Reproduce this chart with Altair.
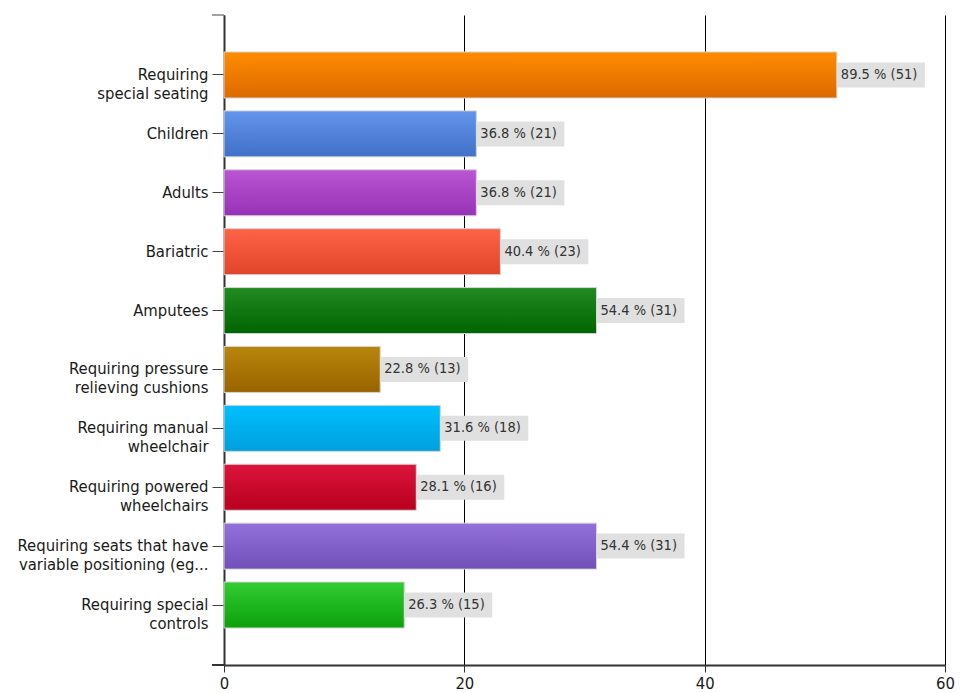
import altair as alt
import pandas as pd

categories = [
    "Requiring\nspecial seating",
    "Children",
    "Adults",
    "Bariatric",
    "Amputees",
    "Requiring pressure\nrelieving cushions",
    "Requiring manual\nwheelchair",
    "Requiring powered\nwheelchairs",
    "Requiring seats that have\nvariable positioning (eg...",
    "Requiring special\ncontrols",
]
counts = [51, 21, 21, 23, 31, 13, 18, 16, 31, 15]
percents = [89.5, 36.8, 36.8, 40.4, 54.4, 22.8, 31.6, 28.1, 54.4, 26.3]
top_colors = ["#ff8c00", "#6495ed", "#ba55d3", "#ff6347", "#228b22",
              "#b8860b", "#00bfff", "#dc143c", "#9370db", "#32cd32"]
bottom_colors = ["#dc6a00", "#4070c8", "#9632b4", "#e0442a", "#006400",
                 "#996300", "#00a0dc", "#b8001e", "#7250b8", "#0ca00c"]
x_ticks = [0, 20, 40, 60]

df = pd.DataFrame({
    "idx": list(range(len(categories))),
    "cat": categories,
    "count": counts,
    "label": [f"{p:.1f} % ({c})" for p, c in zip(percents, counts)],
})

FONT = "'DejaVu Sans Condensed', 'DejaVu Sans', sans-serif"
PLOT_W = 721
PLOT_H = 650

y_enc = alt.Y(
    "cat:N",
    sort=categories,
    scale=alt.Scale(paddingInner=0.219, paddingOuter=0.628),
    axis=alt.Axis(
        title=None, labelFont=FONT, labelFontSize=16.5, labelColor="#1a1a1a",
        tickSize=12, tickColor="#444", domainColor="#333", domainWidth=2,
        labelPadding=4, labelLineHeight=19, labelLimit=400,
        labelExpr="split(datum.label, '\\n')",
    ),
)
x_enc = alt.X(
    "count:Q",
    scale=alt.Scale(domain=[0, 60], nice=False),
    axis=alt.Axis(
        title=None, values=x_ticks, grid=True, gridColor="#000", gridWidth=1,
        gridOpacity=1, tickSize=7, tickColor="#333", domainColor="#333",
        domainWidth=2, labelFont=FONT, labelFontSize=16.5, labelColor="#1a1a1a",
        labelPadding=3, labelFlush=False,
    ),
)

base = alt.Chart(df)

layers = []
for i in range(len(categories)):
    grad = alt.Gradient(
        gradient="linear",
        stops=[alt.GradientStop(color=top_colors[i], offset=0),
               alt.GradientStop(color=bottom_colors[i], offset=1)],
        x1=0, x2=0, y1=0, y2=1,
    )
    layers.append(
        base.transform_filter(alt.datum.idx == i)
        .mark_bar(color=grad, stroke="#d4d4d4", strokeWidth=1)
        .encode(x=x_enc, y=y_enc)
    )

label_box = base.mark_bar(color="#e0e0e0", height=25, x2Offset=88).encode(
    x=x_enc, x2=alt.X2("count:Q"), y=y_enc
)
label_text = base.mark_text(
    align="left", baseline="middle", dx=4, font=FONT, fontSize=14.5, color="#333"
).encode(x=x_enc, y=y_enc, text="label:N")

deco = alt.Data(values=[{}])
top_tick = alt.Chart(deco).mark_rule(color="#444", strokeWidth=1).encode(
    x=alt.value(-12), x2=alt.value(0), y=alt.value(0)
)
bottom_ext = alt.Chart(deco).mark_rule(color="#333", strokeWidth=2).encode(
    x=alt.value(-12), x2=alt.value(0), y=alt.value(PLOT_H)
)

chart = alt.layer(*layers, label_box, label_text, top_tick, bottom_ext).properties(
    width=PLOT_W,
    height=PLOT_H,
    autosize=alt.AutoSizeParams(type="none"),
    padding={"left": 216, "top": 7, "right": 10, "bottom": 27},
    background="white",
).configure_view(stroke=None)

chart.save("out.html", embed_options={"renderer": "svg", "actions": False})
